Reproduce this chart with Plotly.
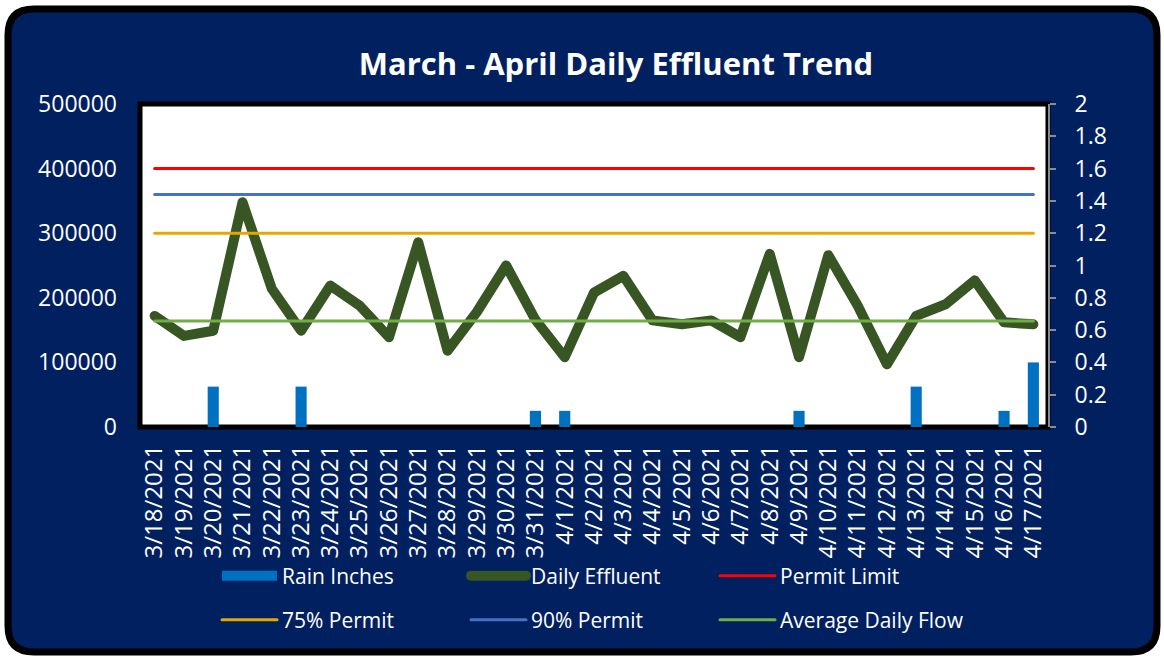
import plotly.graph_objects as go

dates = ["3/18/2021", "3/19/2021", "3/20/2021", "3/21/2021", "3/22/2021", "3/23/2021",
         "3/24/2021", "3/25/2021", "3/26/2021", "3/27/2021", "3/28/2021", "3/29/2021",
         "3/30/2021", "3/31/2021", "4/1/2021", "4/2/2021", "4/3/2021", "4/4/2021",
         "4/5/2021", "4/6/2021", "4/7/2021", "4/8/2021", "4/9/2021", "4/10/2021",
         "4/11/2021", "4/12/2021", "4/13/2021", "4/14/2021", "4/15/2021", "4/16/2021",
         "4/17/2021"]

daily_effluent = [172000, 141000, 149000, 348000, 214000, 149000, 219000, 188000, 139000,
                  286000, 118000, 178000, 250000, 166000, 108000, 208000, 234000, 165000,
                  159000, 165000, 139000, 268000, 108000, 266000, 188000, 97000, 172000,
                  190000, 227000, 162000, 159000]

rain_inches = [0, 0, 0.25, 0, 0, 0.25, 0, 0, 0, 0, 0, 0, 0, 0.1, 0.1, 0, 0, 0, 0, 0, 0, 0,
               0.1, 0, 0, 0, 0.25, 0, 0, 0.1, 0.4]

permit_limit = [400000] * len(dates)
permit_75 = [300000] * len(dates)
permit_90 = [360000] * len(dates)
avg_daily_flow = [164000] * len(dates)

NAVY = "#002060"
RAIN_BLUE = "#0070C0"
FONT = "Open Sans"
W, H = 1164, 658
L, R, T, B = 140, 1048, 104, 427


def xp(px):
    return (px - L) / (R - L)


def yp(py):
    return (B - py) / (B - T)


def rounded_path(x0, y0, x1, y1, r):
    return (f"M{xp(x0 + r)},{yp(y0)} L{xp(x1 - r)},{yp(y0)} Q{xp(x1)},{yp(y0)} {xp(x1)},{yp(y0 + r)} "
            f"L{xp(x1)},{yp(y1 - r)} Q{xp(x1)},{yp(y1)} {xp(x1 - r)},{yp(y1)} "
            f"L{xp(x0 + r)},{yp(y1)} Q{xp(x0)},{yp(y1)} {xp(x0)},{yp(y1 - r)} "
            f"L{xp(x0)},{yp(y0 + r)} Q{xp(x0)},{yp(y0)} {xp(x0 + r)},{yp(y0)} Z")


fig = go.Figure()

fig.add_trace(go.Bar(x=dates, y=rain_inches, name="Rain Inches", marker_color=RAIN_BLUE,
                     marker_line_width=0, width=0.38, yaxis="y2", showlegend=False))
# legend entry for the rain bars (wide box like the original)
fig.add_trace(go.Scatter(x=[None], y=[None], name="Rain Inches", mode="lines",
                         line=dict(color=RAIN_BLUE, width=14), legend="legend"))
fig.add_trace(go.Scatter(x=dates, y=daily_effluent, name="Daily Effluent", mode="lines",
                         line=dict(color="#375623", width=10), legend="legend"))
fig.add_trace(go.Scatter(x=dates, y=permit_limit, name="Permit Limit", mode="lines",
                         line=dict(color="#FF0000", width=3), legend="legend"))
fig.add_trace(go.Scatter(x=dates, y=permit_75, name="75% Permit", mode="lines",
                         line=dict(color="#E6A800", width=3), legend="legend2"))
fig.add_trace(go.Scatter(x=dates, y=permit_90, name="90% Permit", mode="lines",
                         line=dict(color="#4472C4", width=3), legend="legend2"))
fig.add_trace(go.Scatter(x=dates, y=avg_daily_flow, name="Average Daily Flow", mode="lines",
                         line=dict(color="#70AD47", width=3), legend="legend2"))

legend_common = dict(orientation="h", xanchor="left", yanchor="middle", bgcolor="rgba(0,0,0,0)",
                     font=dict(family=FONT, size=21, color="white"), entrywidth=179,
                     itemwidth=55, traceorder="normal")

fig.update_layout(
    width=W, height=H,
    margin=dict(l=L, r=W - R, t=T, b=H - B),
    paper_bgcolor="white",
    plot_bgcolor="white",
    font=dict(family=FONT, color="white"),
    title=dict(text="<b>March - April Daily Effluent Trend</b>", x=xp(616), xref="paper",
               xanchor="center", y=1 - 64 / H, yref="container", yanchor="middle",
               font=dict(family=FONT, size=31, color="white")),
    xaxis=dict(type="category", range=[-0.5, 30.5], tickangle=-90, showgrid=False,
               zeroline=False, showline=False, ticks="",
               tickfont=dict(family=FONT, size=24, color="white"), ticklabelstandoff=12),
    yaxis=dict(range=[0, 500000], dtick=100000, tickformat="d", showgrid=False, zeroline=False,
               showline=False, ticks="", tickfont=dict(family=FONT, size=23, color="white"),
               ticklabelstandoff=22),
    yaxis2=dict(range=[0, 2], dtick=0.2, overlaying="y", side="right", showgrid=False,
                zeroline=False, showline=True, linecolor="#8C8C8C", linewidth=2,
                ticks="outside", ticklen=6, tickwidth=2, tickcolor="#8C8C8C",
                tickfont=dict(family=FONT, size=23, color="white"), ticklabelstandoff=14),
    legend=dict(x=xp(217), y=yp(576), **legend_common),
    legend2=dict(x=xp(217), y=yp(620), **legend_common),
    showlegend=True,
    shapes=[
        dict(type="path", xref="paper", yref="paper", layer="below",
             path=rounded_path(8, 9, 1157, 652, 26),
             fillcolor=NAVY, line=dict(color="black", width=7)),
        dict(type="rect", xref="paper", yref="paper", layer="below", x0=0, x1=1, y0=0, y1=1,
             fillcolor="white", line=dict(color="black", width=5)),
    ],
)

post = """
document.body.style.margin = '0';
var gd = document.getElementById('{plot_id}');
function roundLines() {
  gd.querySelectorAll('.js-line').forEach(function (p) {
    var s = (p.style.stroke || '').replace(/\\s/g, '');
    if (s.indexOf('0,112,192') !== -1) { return; }
    p.style.strokeLinejoin = 'round';
    p.style.strokeLinecap = 'round';
  });
}
roundLines();
gd.on('plotly_afterplot', roundLines);
"""

fig.write_html("out.html", post_script=post, config={"displayModeBar": False})
